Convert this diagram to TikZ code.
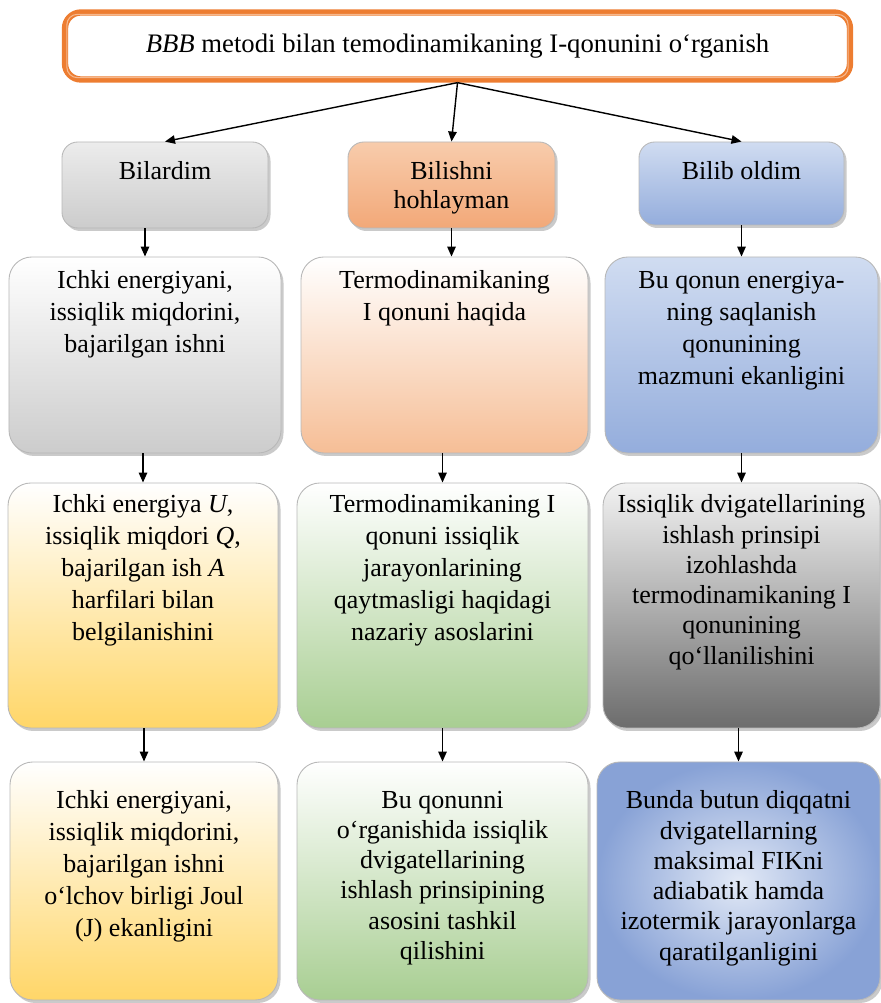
\documentclass[tikz,border=0pt]{standalone}
\usepackage{fontspec}
\setmainfont{Liberation Serif}
\usepackage{xcolor}
\definecolor{ttlorange}{RGB}{237,125,49}
\definecolor{grayhi}{RGB}{236,236,236}
\definecolor{graylo}{RGB}{204,204,204}
\definecolor{peachhi}{RGB}{248,204,172}
\definecolor{peachlo}{RGB}{242,168,120}
\definecolor{bluehi}{RGB}{208,220,241}
\definecolor{bluelo}{RGB}{148,173,220}
\definecolor{peach}{RGB}{246,190,150}
\definecolor{yellowlo}{RGB}{255,214,104}
\definecolor{greenlo}{RGB}{168,206,146}
\definecolor{darklo}{RGB}{108,108,108}
\definecolor{blueout}{RGB}{136,162,214}
\definecolor{bluein}{RGB}{226,233,246}
\usetikzlibrary{arrows.meta, positioning, shadows}

\tikzset{
  cellbox/.style={rounded corners=13pt, draw=black!28, line width=0.5pt,
    drop shadow={shadow xshift=0.05cm, shadow yshift=-0.06cm, opacity=0.35, fill=black!60}},
  hdrbox/.style={cellbox, rounded corners=9pt, minimum height=1.72cm},
  txt/.style={font=\fontsize{14.8}{18.2}\selectfont, align=center, inner sep=0pt, anchor=north},
  tighttxt/.style={txt, font=\fontsize{14.8}{17.2}\selectfont},
  hdrtxt/.style={txt, font=\fontsize{14.8}{16}\selectfont},
  arr/.style={-{Triangle[length=0.2cm, width=0.17cm]}, line width=0.8pt, black},
}

\begin{document}
\begin{tikzpicture}
  \useasboundingbox (0,0) rectangle (17.62,20.06);

  % Title area
  \node[draw=ttlorange, line width=3.6pt, rounded corners=9pt, fill=white,
        minimum width=15.7cm, minimum height=1.34cm] (ttl) at (9.15,19.14) {};
  \draw[ttlorange!55, line width=0.6pt, rounded corners=6pt]
    ([shift={(0.1,-0.1)}]ttl.north west) rectangle ([shift={(-0.1,0.1)}]ttl.south east);
  \node[font=\fontsize{15.2}{17}\selectfont, inner sep=0pt] (ttltxt) at (ttl.center)
    {\textit{BBB} metodi bilan temodinamikaning I-qonunini o‘rganish};

  % Header row
  \node[hdrbox, top color=grayhi, bottom color=graylo, minimum width=4.12cm] (h1) at (3.30,16.36) {};
  \node[hdrbox, top color=peachhi, bottom color=peachlo, minimum width=4.14cm] (h2) at (9.03,16.36) {};
  \node[hdrbox, top color=bluehi, bottom color=bluelo, minimum width=4.10cm, minimum height=1.66cm] (h3) at (14.83,16.39) {};
  \node[hdrtxt] (h1txt) at ([yshift=-0.4cm]h1.north) {Bilardim};
  \node[hdrtxt] (h2txt) at ([yshift=-0.4cm]h2.north) {Bilishni\\hohlayman};
  \node[hdrtxt] (h3txt) at ([yshift=-0.4cm]h3.north) {Bilib oldim};

  % Row 2
  \node[cellbox, top color=white, bottom color=graylo, minimum width=5.44cm, minimum height=3.92cm] (a1) at (2.90,12.96) {};
  \node[cellbox, top color=white, bottom color=peach, minimum width=5.74cm, minimum height=3.92cm] (a2) at (8.89,12.96) {};
  \node[cellbox, top color=bluehi, bottom color=bluelo, minimum width=5.46cm, minimum height=3.92cm] (a3) at (14.83,12.96) {};
  \node[txt] (a1txt) at ([yshift=-0.28cm]a1.north) {Ichki energiyani,\\issiqlik miqdorini,\\bajarilgan ishni};
  \node[txt] (a2txt) at ([yshift=-0.28cm]a2.north) {Termodinamikaning\\I qonuni haqida};
  \node[txt] (a3txt) at ([yshift=-0.28cm]a3.north) {Bu qonun energiya-\\ning saqlanish\\qonunining\\mazmuni ekanligini};

  % Row 3
  \node[cellbox, top color=white, bottom color=yellowlo, minimum width=5.40cm, minimum height=4.90cm] (b1) at (2.86,7.95) {};
  \node[cellbox, top color=white, bottom color=greenlo, minimum width=5.82cm, minimum height=4.90cm] (b2) at (8.85,7.95) {};
  \node[cellbox, top color=black!5, bottom color=darklo, minimum width=5.54cm, minimum height=4.90cm] (b3) at (14.83,7.95) {};
  \node[txt] (b1txt) at ([yshift=-0.24cm]b1.north) {Ichki energiya \textit{U},\\issiqlik miqdori \textit{Q},\\bajarilgan ish \textit{A}\\harfilari bilan\\belgilanishini};
  \node[txt] (b2txt) at ([yshift=-0.24cm]b2.north) {Termodinamikaning I\\qonuni issiqlik\\jarayonlarining\\qaytmasligi haqidagi\\nazariy asoslarini};
  \node[tighttxt] (b3txt) at ([yshift=-0.24cm]b3.north) {Issiqlik dvigatellarining\\ishlash prinsipi\\izohlashda\\termodinamikaning I\\qonunining\\qo‘llanilishini};

  % Row 4
  \node[cellbox, top color=white, bottom color=yellowlo, minimum width=5.36cm, minimum height=4.76cm] (c1) at (2.88,2.44) {};
  \node[cellbox, top color=white, bottom color=greenlo, minimum width=5.82cm, minimum height=4.76cm] (c2) at (8.85,2.44) {};
  \node[cellbox, inner color=bluein, outer color=blueout, minimum width=5.66cm, minimum height=4.76cm] (c3) at (14.77,2.44) {};
  \node[txt] (c1txt) at ([yshift=-0.58cm]c1.north) {Ichki energiyani,\\issiqlik miqdorini,\\bajarilgan ishni\\o‘lchov birligi Joul\\(J) ekanligini};
  \node[tighttxt] (c2txt) at ([yshift=-0.58cm]c2.north) {Bu qonunni\\o‘rganishida issiqlik\\dvigatellarining\\ishlash prinsipining\\asosini tashkil\\qilishini};
  \node[tighttxt] (c3txt) at ([yshift=-0.58cm]c3.north) {Bunda butun diqqatni\\dvigatellarning\\maksimal FIKni\\adiabatik hamda\\izotermik jarayonlarga\\qaratilganligini};

  % Arrows from title
  \draw[arr] (ttl.south) -- (h1.north);
  \draw[arr] (ttl.south) -- (h2.north);
  \draw[arr] (ttl.south) -- (h3.north);

  % Column arrows
  \draw[arr] (h1.south -| a1.north) -- (a1.north);
  \draw[arr] (h2.south) -- (h2.south |- a2.north);
  \draw[arr] (h3.south) -- (a3.north);
  \foreach \up/\dn in {a1/b1, a2/b2, a3/b3, b1/c1, b2/c2, b3/c3} {
    \draw[arr] (\dn.north |- \up.south) -- (\dn.north);
  }
\end{tikzpicture}
\end{document}
